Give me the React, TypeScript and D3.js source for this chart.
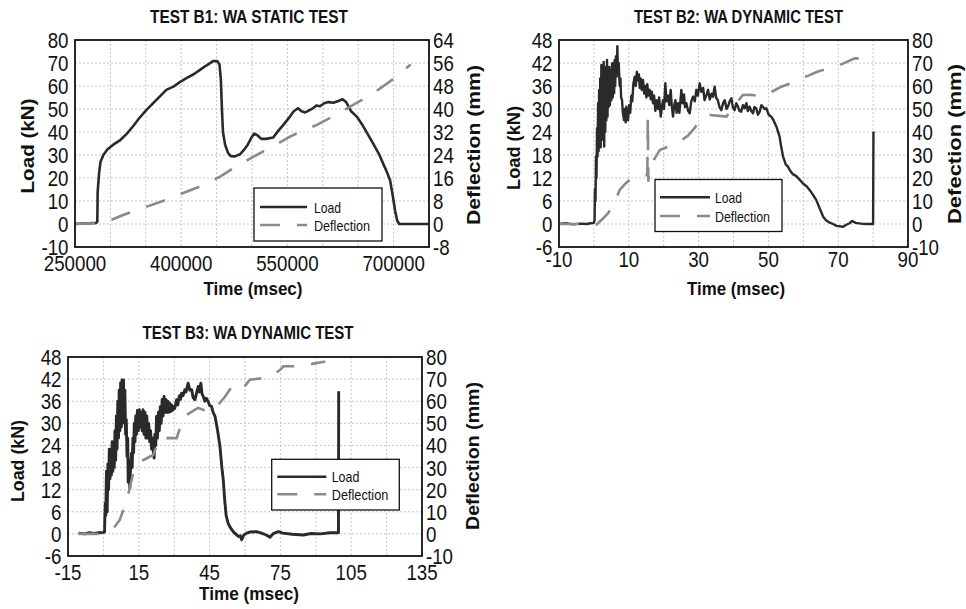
import * as d3 from 'd3';

type Pt = [number, number];

const FONT = '"Liberation Sans", Arial, Helvetica, sans-serif';

// ---------- TEST B1 (static) ----------
const b1Title = 'TEST B1: WA STATIC TEST';
const b1TimeTicks = [250000, 400000, 550000, 700000];
const b1LoadTicks = [-10, 0, 10, 20, 30, 40, 50, 60, 70, 80];
const b1DeflTicks = [-8, 0, 8, 16, 24, 32, 40, 48, 56, 64];
const b1Load: Pt[] = [
  [250000, 0], [260000, 0.2], [270000, 0.3], [280000, 0.5], [281500, 1], [282000, 14], [284000, 22],
  [286000, 27], [290000, 30], [296000, 32.5], [304000, 34.5], [314000, 36.5], [323000, 39.2],
  [332000, 42.5], [342000, 46.5], [351000, 49.6], [365000, 54], [379000, 58.3], [389000, 59.7],
  [398000, 61.7], [408000, 63.5], [417000, 65], [426500, 67], [436000, 69], [445000, 70.8],
  [451000, 70.8], [454000, 69.5], [456000, 63], [457500, 50], [459000, 40], [462000, 34.5],
  [466000, 31], [470000, 29.5], [476000, 29.4], [483000, 30.3], [488000, 32], [494000, 34.5],
  [499000, 37.5], [503000, 39.3], [508000, 38.5], [513000, 37], [520000, 37], [530000, 37.6],
  [537000, 40.5], [544000, 43], [553600, 46.7], [559000, 49], [565000, 50.3], [570000, 49],
  [575000, 48.5], [580000, 49.3], [586000, 50.3], [591000, 51.5], [596000, 51.2], [602000, 52.5],
  [608000, 53], [615000, 52.7], [622000, 53.5], [628000, 54.2], [633000, 53], [640000, 49],
  [648000, 46.7], [655000, 43.5], [662000, 39.8], [672000, 34.5], [680000, 30], [685000, 26.4],
  [690000, 23], [695000, 19], [699000, 12], [702000, 6], [705000, 1.5], [708000, 0],
  [720000, 0], [750000, 0],
];
const b1Deflection: Pt[] = [
  [250000, 0], [266500, 0.2], [280000, 0.3], [292000, 0.5], [305000, 1.8], [318000, 3.1],
  [345000, 5.5], [372000, 7.8], [400000, 10.5], [426500, 13], [455000, 16.5], [481000, 20.5],
  [510000, 24.5], [530000, 27], [553600, 30.4], [572000, 32.5], [591000, 34.4], [615000, 37.5],
  [643000, 41.4], [671500, 45.5], [700000, 50.5], [724000, 55.5],
];

// ---------- TEST B2 (dynamic) ----------
const b2Title = 'TEST B2: WA DYNAMIC TEST';
const b2TimeTicks = [-10, 10, 30, 50, 70, 90];
const b2LoadTicks = [-6, 0, 6, 12, 18, 24, 30, 36, 42, 48];
const b2DeflTicks = [-10, 0, 10, 20, 30, 40, 50, 60, 70, 80];
const b2Load: Pt[] = [
  [-10, 0], [-8, 0.2], [-6, -0.1], [-4, 0.1], [-2, 0], [-1, 0.2], [0, 0.3], [0.2, 1],
  [0.3, 9], [0.45, 6], [0.6, 17.6], [0.75, 12], [0.9, 25], [1.05, 17.6], [1.2, 31.5], [1.35, 19],
  [1.5, 35], [1.65, 22], [1.8, 38], [1.95, 20], [2.14, 41.5], [2.3, 24.5], [2.45, 40], [2.6, 22],
  [2.8, 42.3], [2.95, 20.2], [3.1, 38], [3.25, 24], [3.4, 41], [3.57, 27.1], [3.75, 42.8], [3.9, 28],
  [4.05, 39.3], [4.24, 30.6], [4.4, 41], [4.6, 31], [4.8, 40], [5.0, 32.3], [5.2, 41.9], [5.4, 33],
  [5.6, 42], [5.8, 34.1], [5.96, 42.8], [6.1, 36], [6.3, 43.7], [6.5, 38.4], [6.72, 46.4], [6.9, 39],
  [7.1, 42], [7.39, 36], [7.6, 38], [7.8, 33], [8.06, 32.3], [8.3, 29], [8.63, 27.1], [8.9, 30],
  [9.1, 26.5], [9.3, 30.6], [9.5, 27.5], [9.78, 27.1], [10.1, 31], [10.4, 29], [10.73, 33.5],
  [11.0, 32], [11.3, 36.5], [11.69, 38.4], [12.0, 36], [12.3, 39.7], [12.64, 37.5], [12.9, 39],
  [13.12, 35.5], [13.4, 38], [13.7, 35], [14.07, 37.6], [14.4, 34], [14.7, 36], [15.03, 33],
  [15.3, 36.5], [15.6, 33.5], [15.98, 35], [16.3, 32.5], [16.6, 34.5], [16.94, 31.5], [17.25, 33.5],
  [17.6, 29.5], [17.95, 32.3], [18.37, 30], [18.7, 33], [19.14, 28], [19.5, 30.5], [19.8, 32.3],
  [20.1, 30], [20.47, 36.7], [20.8, 32], [21.24, 33.5], [21.6, 31], [22, 35], [22.3, 31],
  [22.67, 28], [23, 31], [23.34, 32.3], [23.7, 29], [24.1, 31.5], [24.5, 29], [25.06, 35],
  [25.4, 31.5], [25.82, 33.8], [26.1, 30.5], [26.49, 31.5], [27, 29.5], [27.45, 28.9], [27.9, 32],
  [28.4, 33.2], [28.9, 32], [29.36, 35], [29.8, 33.5], [30.3, 36.7], [30.8, 34.5], [31.3, 35.5],
  [31.7, 32.3], [32.2, 33.5], [32.7, 35], [33.2, 32.5], [33.7, 34], [34.1, 33.2], [34.6, 35.8],
  [35.0, 33], [35.5, 32.3], [36, 30.5], [36.5, 29.7], [37, 31.5], [37.5, 32.3], [38, 30],
  [38.4, 30.6], [38.9, 32], [39.4, 32.8], [39.8, 30.5], [40.3, 29.7], [40.8, 31.5], [41.3, 30.6],
  [41.7, 29.5], [42.2, 29.3], [42.7, 31], [43.2, 30.2], [43.7, 31.5], [44.1, 29.5], [44.6, 30.6],
  [45.1, 29.5], [45.6, 28.9], [46, 30.5], [46.5, 30.2], [47, 28.5], [47.5, 29.3], [48, 31],
  [48.4, 30.6], [48.9, 30], [49.4, 30.2], [50.1, 28.5], [50.8, 28], [51.5, 27], [52.3, 25.4],
  [53.2, 22.8], [53.7, 20], [54.2, 17.6], [55, 15.5], [55.6, 15], [56.1, 14.1], [57, 13], [58, 12.5],
  [59, 11.5], [60, 10.5], [61, 9.8], [61.8, 8.9], [62.5, 8], [63.7, 6.3], [64.5, 4.5], [65.7, 1.9],
  [66.5, 1], [67.6, 0.35], [68.5, 0], [69.5, -0.5], [71.4, -0.7], [72.3, -0.2], [73.3, 0.2],
  [74, 0.8], [75, 0.3], [76.5, 0.1], [78, 0], [80, 0], [80.1, 24.1],
];
const b2Deflection: Pt[] = [
  [-10, 0], [-5, 0], [0, 0], [0.7, -0.3], [2, 1.5], [3, 3], [4, 4.6], [5.5, 8], [7.4, 14.8],
  [9, 17.5], [10.5, 19.5], [12.2, 20.8], [14, 21.2], [15.3, 21.3], [15.45, 46.7], [15.6, 18.4],
  [16, 24.9], [18.9, 32.2], [21, 33.5], [23.6, 35.1], [25, 36.3], [27, 38.5], [28.4, 40.9],
  [30.5, 45], [33.2, 47.4], [36, 47], [38, 46.7], [40, 51], [42.7, 56.1], [45, 56.2], [48.4, 55.4],
  [51, 57.5], [53.7, 59.7], [56, 61], [59, 63.3], [61.5, 64.5], [64, 66.2], [67, 67.5], [70.4, 69.1],
  [72.5, 70.5], [74.7, 72], [77, 72], [79.5, 72.2],
];

// ---------- TEST B3 (dynamic) ----------
const b3Title = 'TEST B3: WA DYNAMIC TEST';
const b3TimeTicks = [-15, 15, 45, 75, 105, 135];
const b3LoadTicks = [-6, 0, 6, 12, 18, 24, 30, 36, 42, 48];
const b3DeflTicks = [-10, 0, 10, 20, 30, 40, 50, 60, 70, 80];
const b3Load: Pt[] = [
  [-10.5, 0.2], [-8, 0], [-6, 0.3], [-4, 0.1], [-2, 0.3], [0, 0.4], [0.5, 0.5],
  [0.6, 4], [0.8, 8.3], [1.0, 5], [1.3, 17], [1.6, 6], [1.9, 19], [2.2, 12], [2.5, 23], [2.8, 15],
  [3.1, 22], [3.4, 16], [3.7, 25], [4.0, 17], [4.3, 24], [4.6, 18], [4.9, 28], [5.2, 20], [5.5, 32],
  [5.8, 23], [6.1, 36], [6.4, 26], [6.7, 39], [7.0, 28], [7.3, 41], [7.6, 29], [7.9, 41.8], [8.2, 30],
  [8.5, 41.8], [8.8, 31], [9.1, 39], [9.4, 27], [9.7, 31], [10.0, 21], [10.3, 26], [10.5, 14],
  [10.8, 20], [11.2, 12.4], [11.5, 18], [11.9, 21.9], [12.2, 18], [12.5, 26], [12.8, 22], [13.1, 30],
  [13.4, 25], [13.7, 32], [14.0, 27], [14.4, 33.5], [14.8, 28], [15.2, 33.7], [15.6, 29], [16.0, 33],
  [16.4, 28], [16.8, 33.7], [17.2, 27], [17.6, 33], [18.0, 26], [18.4, 32], [18.8, 26], [19.2, 30],
  [19.6, 25], [20.0, 28], [20.4, 23], [20.8, 26], [21.2, 22], [21.5, 20.6], [21.8, 27], [22.2, 24],
  [22.5, 31.9], [22.9, 26], [23.3, 33], [23.7, 28], [24.1, 34.5], [24.5, 30], [24.9, 36.5],
  [25.3, 32], [25.7, 37.3], [26.1, 33], [26.5, 36.5], [26.9, 33], [27.3, 36], [27.7, 33],
  [28.1, 35.5], [28.5, 33.2], [28.9, 35], [29.3, 33.5], [29.7, 34.6], [30.2, 34], [31, 36.4],
  [31.5, 35], [32.2, 37.5], [32.7, 36.5], [33.1, 38.2], [33.7, 37.5], [34.5, 39.1], [35, 38.5],
  [35.9, 40.9], [36.6, 39], [37.4, 39.1], [38, 37], [38.8, 36.4], [39.4, 38], [40.2, 40],
  [40.7, 38.5], [41.3, 40.9], [41.8, 38], [42.3, 37.3], [43, 36], [43.6, 36.8], [44.4, 35.9],
  [45, 34.8], [45.8, 34.6], [46.5, 33], [47.3, 31.9], [48.4, 28], [49.4, 23.7], [50.2, 18],
  [50.8, 14.7], [51.3, 10], [52, 5], [52.8, 3], [53.6, 1.9], [55, 0.6], [56, 0], [57.2, -0.7],
  [58, -0.5], [58.6, -1.6], [59.5, -0.3], [60.7, 0.2], [62, 0.5], [64.9, 0.6], [67, 0.2], [69, -0.3],
  [70.6, -0.9], [72, 0.1], [74.1, 0.6], [76, 0.2], [80, -0.1], [84.7, -0.3], [88, 0.1], [92, 0],
  [96, 0.3], [99.6, 0.3], [99.7, 38.7],
];
const b3Deflection: Pt[] = [
  [-10.5, 0], [-6, 0], [-3, 0], [-1, 0.2], [1, 0.8], [3, 1.8], [5, 3.5], [6.9, 6.3], [8, 9.5],
  [9.8, 14.6], [11, 20], [12.6, 27.5], [14, 30.5], [15.4, 32.7], [18, 34], [21.1, 35.7], [22.5, 39.5],
  [23.9, 43.3], [27, 43.3], [31, 43.3], [32.5, 48], [33.8, 52.9], [37, 55], [40.1, 57], [42.5, 56],
  [45.2, 55.3], [48, 57.6], [51.5, 62], [55, 67.5], [57, 66.8], [59.3, 66], [62.1, 69.7], [66, 70.2],
  [69.9, 70.5], [72.5, 72.5], [74.9, 74.2], [76.3, 75.8], [80, 75.8], [84.7, 75.8], [89, 77], [94, 78],
];

const panels = [
  {
    title: b1Title, load: b1Load, defl: b1Deflection,
    xTicks: b1TimeTicks, loadTicks: b1LoadTicks, deflTicks: b1DeflTicks,
    xDomain: [250000, 750000], xGridStep: 50000, deflName: 'Deflection (mm)',
    left: 75, right: 429, top: 40, bottom: 247, xTickY: 270.5,
    titleX: 249, titleY: 23, titleLen: 198,
    xLab: { x: 253, y: 295, len: 99 }, loadLab: { x: 27, y: 146, len: 95 }, deflLab: { x: 473, y: 145, len: 160 },
    legend: { x: 254, y: 188, w: 128, h: 53, lineX: 260, lineLen: 47, r1: 207, r2: 225, textX: 314, lLen: 27, dLen: 56 },
    loadWidth: 2.6,
  },
  {
    title: b2Title, load: b2Load, defl: b2Deflection,
    xTicks: b2TimeTicks, loadTicks: b2LoadTicks, deflTicks: b2DeflTicks,
    xDomain: [-10, 90], xGridStep: 10, deflName: 'Defection (mm)',
    left: 559, right: 908, top: 40, bottom: 247, xTickY: 266.5,
    titleX: 738.5, titleY: 23, titleLen: 209,
    xLab: { x: 736, y: 295, len: 98 }, loadLab: { x: 513, y: 148, len: 84 }, deflLab: { x: 954, y: 144, len: 160 },
    legend: { x: 655, y: 179.5, w: 127, h: 52, lineX: 660, lineLen: 50, r1: 197.3, r2: 216, textX: 715, lLen: 27, dLen: 55 },
    loadWidth: 2.4,
  },
  {
    title: b3Title, load: b3Load, defl: b3Deflection,
    xTicks: b3TimeTicks, loadTicks: b3LoadTicks, deflTicks: b3DeflTicks,
    xDomain: [-15, 135], xGridStep: 15, deflName: 'Deflection (mm)',
    left: 68, right: 422, top: 357, bottom: 556, xTickY: 580,
    titleX: 248, titleY: 339, titleLen: 211,
    xLab: { x: 249, y: 600, len: 100 }, loadLab: { x: 17.5, y: 461, len: 82 }, deflLab: { x: 472, y: 456, len: 148 },
    legend: { x: 271.7, y: 459.3, w: 127.6, h: 50.7, lineX: 277.3, lineLen: 49, r1: 476.7, r2: 494.3, textX: 331.7, lLen: 27.7, dLen: 56.7 },
    loadWidth: 2.9,
  },
];

const LOAD_COLOR = '#2a2a2a';
const DEFL_COLOR = '#8a8a8a';
const DASH = '20 17';

function FitText({ x, y, len, size, text, weight = 'bold', rotate = false }: any) {
  if (rotate) {
    const b = size * 0.36;
    return (
      <text x={x - len / 2} y={y + b} transform={`rotate(-90 ${x} ${y})`} textLength={len}
        lengthAdjust="spacingAndGlyphs" fontSize={size} fontWeight={weight} fontFamily={FONT} fill="#111">
        {text}
      </text>
    );
  }
  return (
    <text x={x - len / 2} y={y} textLength={len} lengthAdjust="spacingAndGlyphs"
      fontSize={size} fontWeight={weight} fontFamily={FONT} fill="#111">
      {text}
    </text>
  );
}

function TickText({ x, y, anchor, value }: any) {
  return (
    <text transform={`translate(${x},${y}) scale(0.85,1)`} textAnchor={anchor}
      fontSize={22} fontFamily={FONT} fill="#111">
      {value}
    </text>
  );
}

function Panel({ p }: any) {
  const x = d3.scaleLinear().domain(p.xDomain).range([p.left, p.right]);
  const yL = d3.scaleLinear().domain([p.loadTicks[0], p.loadTicks[p.loadTicks.length - 1]]).range([p.bottom, p.top]);
  const yD = d3.scaleLinear().domain([p.deflTicks[0], p.deflTicks[p.deflTicks.length - 1]]).range([p.bottom, p.top]);
  const loadLine = d3.line<Pt>().x(d => x(d[0])).y(d => yL(d[1]));
  const deflLine = d3.line<Pt>().x(d => x(d[0])).y(d => yD(d[1]));
  const xGrid = d3.range(p.xDomain[0] + p.xGridStep, p.xDomain[1] - 1e-9, p.xGridStep);
  const yGrid = p.loadTicks.slice(1, -1);
  const lg = p.legend;
  const clipId = `clip-${p.left}-${p.top}`;

  return (
    <g>
      <defs>
        <clipPath id={clipId}>
          <rect x={p.left} y={p.top} width={p.right - p.left} height={p.bottom - p.top} />
        </clipPath>
      </defs>
      <rect x={p.left} y={p.top} width={p.right - p.left} height={p.bottom - p.top} fill="#fff" />
      {xGrid.map((v: number) => (
        <line key={`gx${v}`} x1={x(v)} x2={x(v)} y1={p.top} y2={p.bottom} stroke="#c6c6c6" strokeWidth={1} strokeDasharray="2 2" />
      ))}
      {yGrid.map((v: number) => (
        <line key={`gy${v}`} x1={p.left} x2={p.right} y1={yL(v)} y2={yL(v)} stroke="#c6c6c6" strokeWidth={1} strokeDasharray="2 2" />
      ))}
      <g clipPath={`url(#${clipId})`}>
        <path d={loadLine(p.load) || ''} fill="none" stroke={LOAD_COLOR} strokeWidth={p.loadWidth} strokeLinejoin="round" />
        <path d={deflLine(p.defl) || ''} fill="none" stroke={DEFL_COLOR} strokeWidth={2.6} strokeDasharray={DASH} />
      </g>
      <rect x={p.left} y={p.top} width={p.right - p.left} height={p.bottom - p.top} fill="none" stroke="#111" strokeWidth={1.8} />

      {p.loadTicks.map((v: number) => (
        <TickText key={`l${v}`} x={p.left - 6.5} y={yL(v) + 8} anchor="end" value={v} />
      ))}
      {p.deflTicks.map((v: number) => (
        <TickText key={`d${v}`} x={p.right + 4} y={yD(v) + 8} anchor="start" value={v} />
      ))}
      {p.xTicks.map((v: number) => (
        <TickText key={`x${v}`} x={x(v)} y={p.xTickY} anchor="middle" value={v} />
      ))}

      <FitText x={p.titleX} y={p.titleY} len={p.titleLen} size={18} text={p.title} />
      <FitText x={p.xLab.x} y={p.xLab.y} len={p.xLab.len} size={19} text="Time (msec)" />
      <FitText x={p.loadLab.x} y={p.loadLab.y} len={p.loadLab.len} size={19} text="Load (kN)" rotate />
      <FitText x={p.deflLab.x} y={p.deflLab.y} len={p.deflLab.len} size={19} text={p.deflName} rotate />

      <rect x={lg.x} y={lg.y} width={lg.w} height={lg.h} fill="#fff" stroke="#111" strokeWidth={1.3} />
      <line x1={lg.lineX} x2={lg.lineX + lg.lineLen} y1={lg.r1} y2={lg.r1} stroke={LOAD_COLOR} strokeWidth={2.6} />
      <line x1={lg.lineX} x2={lg.lineX + lg.lineLen} y1={lg.r2} y2={lg.r2} stroke={DEFL_COLOR} strokeWidth={2.6} strokeDasharray={DASH} />
      <FitText x={lg.textX + lg.lLen / 2} y={lg.r1 + 5.5} len={lg.lLen} size={15} weight="normal" text="Load" />
      <FitText x={lg.textX + lg.dLen / 2} y={lg.r2 + 5.5} len={lg.dLen} size={15} weight="normal" text="Deflection" />
    </g>
  );
}

export default function App() {
  return (
    <svg width={966} height={609} style={{ position: 'absolute', left: 0, top: 0, background: '#fff' }}>
      <rect width={966} height={609} fill="#fff" />
      {panels.map((p, i) => (
        <Panel key={i} p={p} />
      ))}
    </svg>
  );
}
